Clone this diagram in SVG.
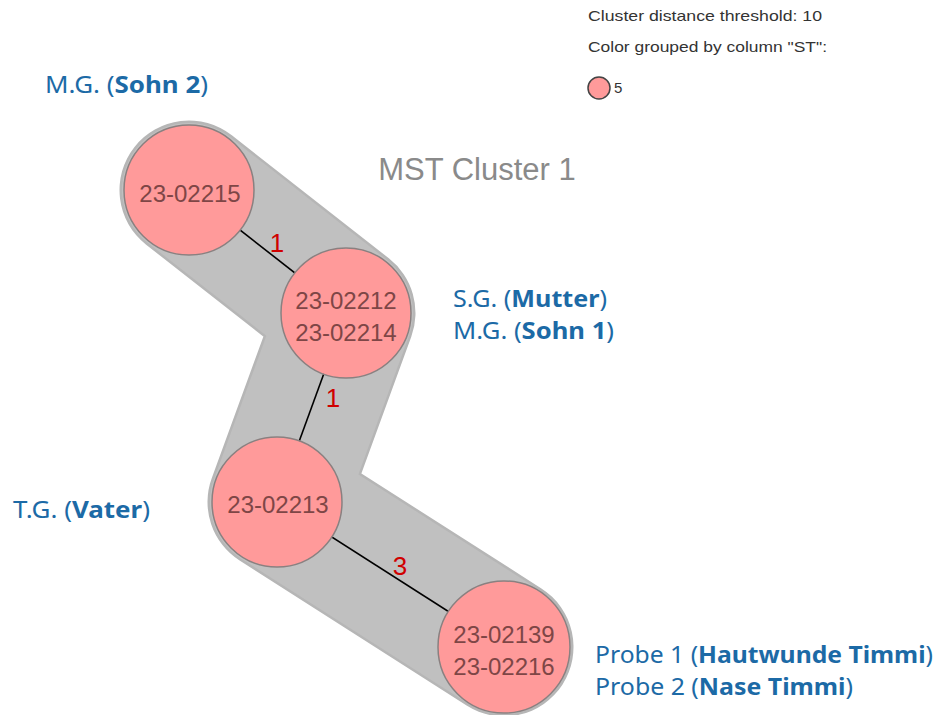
<svg xmlns="http://www.w3.org/2000/svg" width="940" height="715" viewBox="0 0 940 715">
<style>
.hull{fill:none;stroke-linecap:round;stroke-linejoin:round}
.node circle{fill:#ff9a9a;stroke:#8a8080;stroke-width:1.5}
.node text{font-family:"Liberation Sans",Arial,sans-serif;font-size:24px;fill:#7e4646;text-anchor:middle}
.edge{stroke:#000;stroke-width:1.6}
.elabel{font-family:"Liberation Sans",Arial,sans-serif;font-size:26px;fill:#d00000;text-anchor:middle}
.legend{font-family:"Liberation Sans",Arial,sans-serif;font-size:15px;fill:#333}
.ann{font-family:"Noto Sans","Open Sans",sans-serif;font-size:23px;fill:#1c6aa6}
.ann tspan.b{font-weight:bold}
</style>
<rect width="940" height="715" fill="#fff"/>
<g id="hull">
<polyline class="hull" points="189,190 346,313 277,502 504,647" stroke="#b6b6b6" stroke-width="139"/>
<polyline class="hull" points="189,190 346,313 277,502 504,647" stroke="#c0c0c0" stroke-width="134"/>
</g>
<text x="477" y="180" font-family="Liberation Sans,Arial,sans-serif" font-size="31" fill="#8a8a8a" text-anchor="middle">MST Cluster 1</text>
<g id="legend">
<text class="legend" x="588" y="21" textLength="234" lengthAdjust="spacingAndGlyphs">Cluster distance threshold: 10</text>
<text class="legend" x="588" y="52" textLength="239" lengthAdjust="spacingAndGlyphs">Color grouped by column "ST":</text>
<circle cx="599" cy="88" r="11" fill="#ff9a9a" stroke="#444" stroke-width="1.5"/>
<text class="legend" x="614" y="93">5</text>
</g>
<g id="connectors">
<line class="edge" x1="189" y1="190" x2="346" y2="313"/>
<line class="edge" x1="346" y1="313" x2="277" y2="502"/>
<line class="edge" x1="277" y1="502" x2="504" y2="647"/>
<text class="elabel" x="277" y="252">1</text>
<text class="elabel" x="333" y="407">1</text>
<text class="elabel" x="400" y="575">3</text>
</g>
<g id="n1" class="node">
<circle cx="189" cy="190" r="65"/>
<text x="190" y="202">23-02215</text>
</g>
<g id="n2" class="node">
<circle cx="346" cy="313" r="65"/>
<text x="346" y="309">23-02212</text>
<text x="346" y="341">23-02214</text>
</g>
<g id="n3" class="node">
<circle cx="277" cy="502" r="65"/>
<text x="278" y="513">23-02213</text>
</g>
<g id="n4" class="node">
<circle cx="504" cy="647" r="66"/>
<text x="504" y="643">23-02139</text>
<text x="504" y="675">23-02216</text>
</g>
<g id="annotations">
<text class="ann" x="45" y="93" textLength="163" lengthAdjust="spacingAndGlyphs">M.G. (<tspan class="b">Sohn 2</tspan>)</text>
<text class="ann" x="453" y="307" textLength="154" lengthAdjust="spacingAndGlyphs">S.G. (<tspan class="b">Mutter</tspan>)</text>
<text class="ann" x="453" y="339" textLength="161" lengthAdjust="spacingAndGlyphs">M.G. (<tspan class="b">Sohn 1</tspan>)</text>
<text class="ann" x="13" y="518" textLength="137" lengthAdjust="spacingAndGlyphs">T.G. (<tspan class="b">Vater</tspan>)</text>
<text class="ann" x="595" y="663" textLength="338" lengthAdjust="spacingAndGlyphs">Probe 1 (<tspan class="b">Hautwunde Timmi</tspan>)</text>
<text class="ann" x="595" y="695" textLength="258" lengthAdjust="spacingAndGlyphs">Probe 2 (<tspan class="b">Nase Timmi</tspan>)</text>
</g>
</svg>
